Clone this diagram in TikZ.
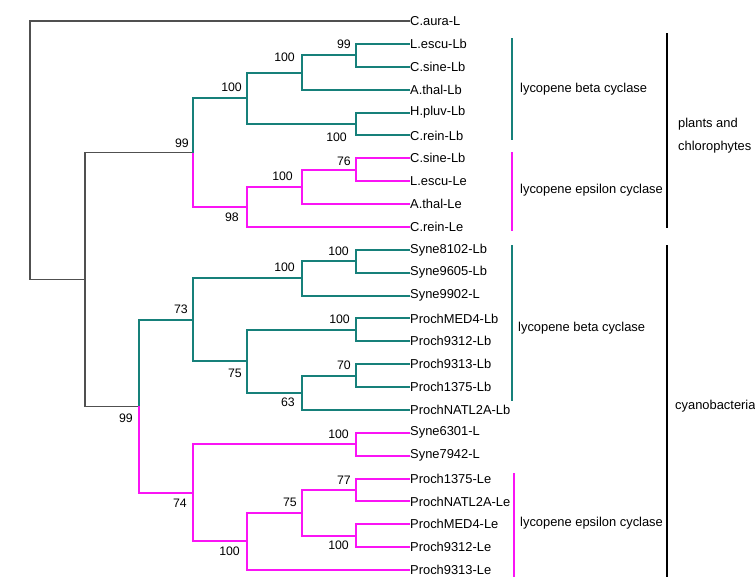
\documentclass[tikz,border=0pt]{standalone}
\usepackage{fontspec}
\setmainfont{Liberation Sans}
\definecolor{tealc}{RGB}{22,128,122}
\definecolor{magc}{RGB}{250,20,245}
\definecolor{darkc}{RGB}{80,80,80}
\begin{document}
\begin{tikzpicture}[x=1pt,y=-1pt,
  leaf/.style={anchor=west,inner xsep=0.5pt,inner ysep=1pt,font=\fontsize{12.9}{14}\selectfont},
  bs/.style={anchor=east,inner sep=0pt,font=\fontsize{12.3}{14}\selectfont},
  grp/.style={anchor=west,inner sep=0pt,font=\fontsize{12.9}{23}\selectfont,align=left},
  tb/.style={draw=tealc,line width=2pt},
  mb/.style={draw=magc,line width=2pt},
  kb/.style={draw=darkc,line width=1.2pt},
  kbr/.style={draw=black,line width=2.2pt},
  tbr/.style={draw=tealc,line width=2pt},
  mbr/.style={draw=magc,line width=2pt}]
\useasboundingbox (0,0) rectangle (755,582);
% leaves
\node[leaf] (L1) at (409.5,21) {C.aura-L};
\node[leaf] (L2) at (409.5,43.9) {L.escu-Lb};
\node[leaf] (L3) at (409.5,66.75) {C.sine-Lb};
\node[leaf] (L4) at (409.5,89.6) {A.thal-Lb};
\node[leaf] (L5) at (409.5,112.5) {H.pluv-Lb};
\node[leaf] (L6) at (409.5,135.4) {C.rein-Lb};
\node[leaf] (L7) at (409.5,158.25) {C.sine-Lb};
\node[leaf] (L8) at (409.5,181.1) {L.escu-Le};
\node[leaf] (L9) at (409.5,204) {A.thal-Le};
\node[leaf] (L10) at (409.5,226.9) {C.rein-Le};
\node[leaf] (L11) at (409.5,249.75) {Syne8102-Lb};
\node[leaf] (L12) at (409.5,272.6) {Syne9605-Lb};
\node[leaf] (L13) at (409.5,295.5) {Syne9902-L};
\node[leaf] (L14) at (409.5,318.4) {ProchMED4-Lb};
\node[leaf] (L15) at (409.5,341.25) {Proch9312-Lb};
\node[leaf] (L16) at (409.5,364.1) {Proch9313-Lb};
\node[leaf] (L17) at (409.5,387) {Proch1375-Lb};
\node[leaf] (L18) at (409.5,409.9) {ProchNATL2A-Lb};
\node[leaf] (L19) at (409.5,432.75) {Syne6301-L};
\node[leaf] (L20) at (409.5,455.6) {Syne7942-L};
\node[leaf] (L21) at (409.5,478.5) {Proch1375-Le};
\node[leaf] (L22) at (409.5,501.4) {ProchNATL2A-Le};
\node[leaf] (L23) at (409.5,524.25) {ProchMED4-Le};
\node[leaf] (L24) at (409.5,547.1) {Proch9312-Le};
\node[leaf] (L25) at (409.5,570) {Proch9313-Le};
% internal nodes
\coordinate (a1) at (356,55.3);
\coordinate (a2) at (302,72.5);
\coordinate (a3) at (356,124);
\coordinate (a4) at (247,98.2);
\coordinate (b1) at (356,169.7);
\coordinate (b2) at (302,186.8);
\coordinate (b3) at (247,206.9);
\coordinate (P) at (193,152.5);
\coordinate (c1) at (356,261.2);
\coordinate (c2) at (302,278.3);
\coordinate (c3) at (356,329.8);
\coordinate (c4) at (356,375.6);
\coordinate (c5) at (302,392.7);
\coordinate (c6) at (247,361.3);
\coordinate (c7) at (193,319.8);
\coordinate (d1) at (356,444.2);
\coordinate (d2) at (356,490);
\coordinate (d3) at (356,535.7);
\coordinate (d4) at (302,512.8);
\coordinate (d5) at (247,541.4);
\coordinate (d6) at (193,492.8);
\coordinate (C) at (139,406.3);
\coordinate (R2) at (85,279.4);
\coordinate (R) at (30,150);
% black root branches
\draw[kb] (R) |- (L1.west);
\draw[kb] (R) |- (R2);
\draw[kb] (R2) |- (P);
\draw[kb] (R2) |- (C);
% plants: beta
\draw[tb] (P) |- (a4);
\draw[tb] (a4) |- (a2);
\draw[tb] (a4) |- (a3);
\draw[tb] (a2) |- (a1);
\draw[tb] (a2) |- (L4.west);
\draw[tb] (a1) |- (L2.west);
\draw[tb] (a1) |- (L3.west);
\draw[tb] (a3) |- (L5.west);
\draw[tb] (a3) |- (L6.west);
% plants: epsilon
\draw[mb] (P) |- (b3);
\draw[mb] (b3) |- (b2);
\draw[mb] (b3) |- (L10.west);
\draw[mb] (b2) |- (b1);
\draw[mb] (b2) |- (L9.west);
\draw[mb] (b1) |- (L7.west);
\draw[mb] (b1) |- (L8.west);
% cyano: beta
\draw[tb] (C) |- (c7);
\draw[tb] (c7) |- (c2);
\draw[tb] (c7) |- (c6);
\draw[tb] (c2) |- (c1);
\draw[tb] (c2) |- (L13.west);
\draw[tb] (c1) |- (L11.west);
\draw[tb] (c1) |- (L12.west);
\draw[tb] (c6) |- (c3);
\draw[tb] (c6) |- (c5);
\draw[tb] (c3) |- (L14.west);
\draw[tb] (c3) |- (L15.west);
\draw[tb] (c5) |- (c4);
\draw[tb] (c5) |- (L18.west);
\draw[tb] (c4) |- (L16.west);
\draw[tb] (c4) |- (L17.west);
% cyano: epsilon
\draw[mb] (C) |- (d6);
\draw[mb] (d6) |- (d1);
\draw[mb] (d6) |- (d5);
\draw[mb] (d1) |- (L19.west);
\draw[mb] (d1) |- (L20.west);
\draw[mb] (d5) |- (d4);
\draw[mb] (d5) |- (L25.west);
\draw[mb] (d4) |- (d2);
\draw[mb] (d4) |- (d3);
\draw[mb] (d2) |- (L21.west);
\draw[mb] (d2) |- (L22.west);
\draw[mb] (d3) |- (L23.west);
\draw[mb] (d3) |- (L24.west);
% bootstrap values
\node[bs] (ba1) at (351,44) {99};
\node[bs] (ba2) at (295,57) {100};
\node[bs] (ba4) at (242,87) {100};
\node[bs] (ba3) at (347,137) {100};
\node[bs] (bP) at (189,143) {99};
\node[bs] (bb1) at (351,161) {76};
\node[bs] (bb2) at (293,176) {100};
\node[bs] (bb3) at (239,217) {98};
\node[bs] (bc1) at (349,251) {100};
\node[bs] (bc2) at (295,267) {100};
\node[bs] (bc7) at (188,309) {73};
\node[bs] (bc3) at (350,319) {100};
\node[bs] (bc6) at (242,373) {75};
\node[bs] (bc4) at (351,365) {70};
\node[bs] (bc5) at (295,402) {63};
\node[bs] (bC) at (133,418) {99};
\node[bs] (bd1) at (349,434) {100};
\node[bs] (bd2) at (351,480) {77};
\node[bs] (bd6) at (187,503) {74};
\node[bs] (bd4) at (297,502) {75};
\node[bs] (bd3) at (349,545) {100};
\node[bs] (bd5) at (240,551) {100};
% group brackets
\draw[tbr] (512,38) -- (512,140);
\draw[mbr] (512,152) -- (512,231);
\draw[kbr] (667,33) -- (667,228);
\draw[tbr] (512,245) -- (512,401);
\draw[mbr] (514,473) -- (514,577);
\draw[kbr] (667,245) -- (667,577);
\node[grp] (g1) at (520,89) {lycopene beta cyclase};
\node[grp] (g2) at (520,190) {lycopene epsilon cyclase};
\node[grp] (g3) at (678,135.5) {plants and\\chlorophytes};
\node[grp] (g4) at (518,328) {lycopene beta cyclase};
\node[grp] (g5) at (520,523) {lycopene epsilon cyclase};
\node[grp] (g6) at (675,406) {cyanobacteria};
\end{tikzpicture}
\end{document}
